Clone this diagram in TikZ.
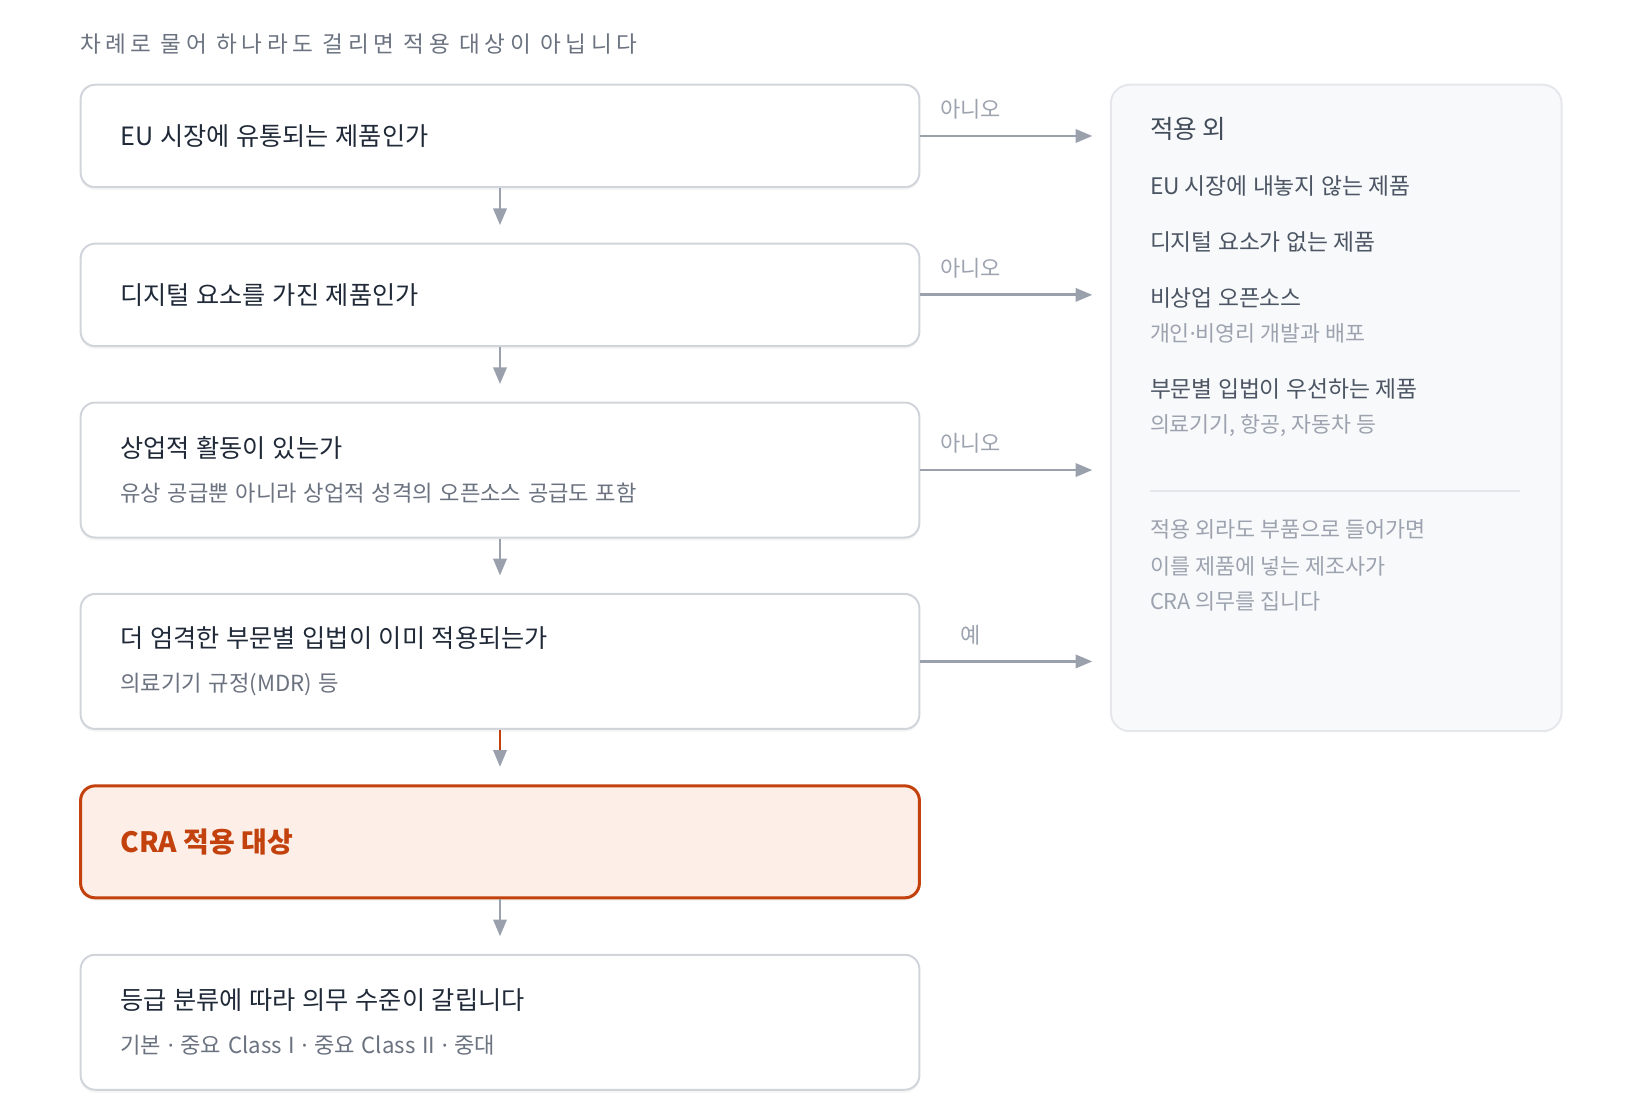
\documentclass[tikz,border=0pt]{standalone}
\usepackage{fontspec}
\setmainfont{Noto Sans CJK KR}
\newfontfamily\capfont[LetterSpace=20]{Noto Sans CJK KR}
\newfontfamily\dotfont{Noto Sans}
\usetikzlibrary{positioning,arrows.meta,shadows}

\definecolor{ink}{HTML}{1F2937}
\definecolor{subgray}{HTML}{6B7280}
\definecolor{mutegray}{HTML}{9CA3AF}
\definecolor{itemgray}{HTML}{4B5563}
\definecolor{arrowgray}{HTML}{9AA1AD}
\definecolor{boxline}{HTML}{D1D5DB}
\definecolor{panelfill}{HTML}{F8F9FB}
\definecolor{panelline}{HTML}{E5E7EB}
\definecolor{crared}{HTML}{C2410C}
\definecolor{crafill}{HTML}{FDEFE7}

\newcommand{\qtitle}[1]{{\fontsize{12.6}{12}\selectfont\color{ink}#1}}
\newcommand{\qsub}[1]{{\fontsize{11.1}{12}\selectfont\color{subgray}#1}}
\newcommand{\mdot}{{\dotfont ·}}

\begin{document}
\begin{tikzpicture}[
  node distance=27.2pt,
  qbox/.style={draw=boxline, line width=1pt, rounded corners=7.3pt, fill=white,
    minimum width=419.4pt, text width=379.6pt, align=left, inner sep=0pt,
    font=\fontsize{10}{12}\selectfont,
    drop shadow={shadow xshift=0pt, shadow yshift=-1.5pt, opacity=0.07}},
  crabox/.style={qbox, draw=crared, line width=1.5pt, fill=crafill},
  panel/.style={draw=panelline, line width=1pt, rounded corners=9.4pt, fill=panelfill,
    minimum width=225.4pt, minimum height=323.2pt},
  flow/.style={draw=arrowgray, line width=1.4pt,
    -{Triangle[length=8.4pt,width=6.6pt]}, shorten >=8.7pt},
  lbl/.style={font=\fontsize{11}{12}\selectfont, text=mutegray, inner sep=0pt},
  phead/.style={font=\fontsize{12.8}{13}\selectfont, text=itemgray!80!ink, inner sep=0pt},
  pitem/.style={font=\fontsize{11.4}{12}\selectfont, text=itemgray, inner sep=0pt},
  psub/.style={font=\fontsize{10.85}{12}\selectfont, text=mutegray, inner sep=0pt},
  pnote/.style={font=\fontsize{10.9}{12}\selectfont, text=mutegray, inner sep=0pt},
  divider/.style={draw=panelline, line width=1pt}
]
\useasboundingbox (0,0) rectangle (820pt,-556pt);

% ── Left column: questions ───────────────────────────────────
\node[qbox, minimum height=51.25pt] (q1) at (250pt,-68pt)
  {\qtitle{EU 시장에 유통되는 제품인가}};
\node[qbox, minimum height=51.25pt, below=of q1] (q2)
  {\qtitle{디지털 요소를 가진 제품인가}};
\node[qbox, minimum height=67.5pt, below=of q2] (q3)
  {\qtitle{상업적 활동이 있는가}\\[9.9pt]\qsub{유상 공급뿐 아니라 상업적 성격의 오픈소스 공급도 포함}};
\node[qbox, minimum height=67.5pt, below=of q3] (q4)
  {\qtitle{더 엄격한 부문별 입법이 이미 적용되는가}\\[9.9pt]\qsub{의료기기 규정(MDR) 등}};

% ── Result and next step ─────────────────────────────────────
\node[crabox, minimum height=56pt, below=of q4] (cra)
  {{\fontsize{14}{14}\selectfont\bfseries\color{crared}CRA 적용 대상}};
\node[qbox, minimum height=67.5pt, below=of cra] (grade)
  {\qtitle{등급 분류에 따라 의무 수준이 갈립니다}\\[9.9pt]\qsub{기본 \mdot{} 중요 Class I \mdot{} 중요 Class II \mdot{} 중대}};

% caption above the first box
\node[inner sep=0pt, text=subgray, font=\fontsize{11.3}{12}\selectfont\capfont,
  above=19.6pt of q1.north west, anchor=west] (cap)
  {차례로 물어 하나라도 걸리면 적용 대상이 아닙니다};

% ── Right column: out of scope ───────────────────────────────
\node[panel, right=94.7pt of q1.north east, anchor=north west] (panel) {};

\node[phead, anchor=west] (ph) at ([xshift=19.9pt, yshift=-22.5pt] panel.north west) {적용 외};
\node[pitem, below=28.8pt of ph.west, anchor=west]  (p1) {EU 시장에 내놓지 않는 제품};
\node[pitem, below=27.7pt of p1.west, anchor=west]  (p2) {디지털 요소가 없는 제품};
\node[pitem, below=28.2pt of p2.west, anchor=west]  (p3) {비상업 오픈소스};
\node[psub, below=17.8pt of p3.west, anchor=west]   (p3s) {개인\mdot{}비영리 개발과 배포};
\node[pitem, below=27.7pt of p3s.west, anchor=west] (p4) {부문별 입법이 우선하는 제품};
\node[psub, below=18.3pt of p4.west, anchor=west]   (p4s) {의료기기, 항공, 자동차 등};

% divider
\coordinate[below=32.4pt of p4s.west] (divl);
\coordinate[right=185.1pt of divl] (divr);
\draw[divider] (divl) -- (divr);

\node[pnote, below=51.8pt of p4s.west, anchor=west] (n1) {적용 외라도 부품으로 들어가면};
\node[pnote, below=18.3pt of n1.west, anchor=west]  (n2) {이를 제품에 넣는 제조사가};
\node[pnote, below=17.8pt of n2.west, anchor=west]  (n3) {CRA 의무를 집니다};

% ── Vertical flow ────────────────────────────────────────────
\draw[flow] (q1) -- (q2);
\draw[flow] (q2) -- (q3);
\draw[flow] (q3) -- (q4);
\draw[flow, draw=crared,
  -{Triangle[length=8.4pt,width=6.6pt,color=arrowgray,fill=arrowgray]}] (q4) -- (cra);
\draw[flow] (cra) -- (grade);

% ── Exits to the right ───────────────────────────────────────
\draw[flow] (q1.east) -- (q1.east -| panel.west)
  node[lbl, pos=0.265, above=7.6pt] {아니오};
\draw[flow] (q2.east) -- (q2.east -| panel.west)
  node[lbl, pos=0.265, above=7.6pt] {아니오};
\draw[flow] (q3.east) -- (q3.east -| panel.west)
  node[lbl, pos=0.265, above=7.6pt] {아니오};
\draw[flow] (q4.east) -- (q4.east -| panel.west)
  node[lbl, pos=0.265, above=7.6pt] {예};

\end{tikzpicture}
\end{document}
